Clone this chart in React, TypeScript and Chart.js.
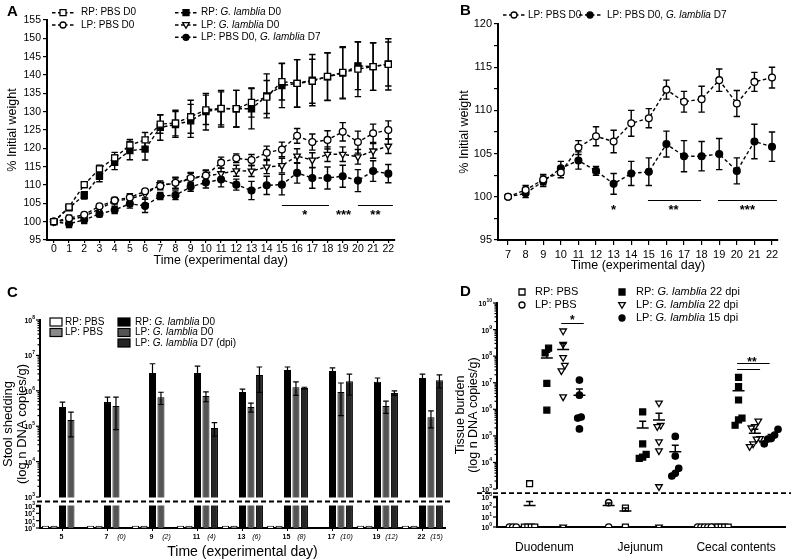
import React, { useEffect, useRef } from 'react';
import { Chart, registerables } from 'chart.js';

Chart.register(...registerables);

const FF = '"Liberation Sans", Arial, Helvetica, sans-serif';
const K = '#000';
Chart.defaults.font.family = FF;
Chart.defaults.color = K;

/* ---------------- Panel A: % initial weight, all groups ---------------- */
const daysA = [0, 1, 2, 3, 4, 5, 6, 7, 8, 9, 10, 11, 12, 13, 14, 15, 16, 17, 18, 19, 20, 21, 22];
const yTicksA = [95, 100, 105, 110, 115, 120, 125, 130, 135, 140, 145, 150, 155];
const rpPbsA = [100, 104, 110.1, 114.4, 117.4, 120.9, 122.3, 126.6, 126.9, 128.6, 130.5, 130.9, 130.8, 132.5, 134, 138.2, 137.7, 138.3, 139.6, 140.7, 141.6, 142.3, 142.9];
const rpPbsAErr = [0, 0.5, 0.8, 1, 1.5, 1.5, 2, 2.5, 3.5, 4.5, 4, 4.5, 5, 4, 4.5, 5, 6.5, 6, 6.5, 7, 7.5, 6.5, 7];
const lpPbsA = [100, 100.95, 101.9, 104.2, 105.8, 106.6, 108.3, 109.7, 110.6, 111.9, 112.6, 116.1, 117.3, 116.8, 118.8, 119.7, 123.4, 121.7, 122.3, 124.5, 121.7, 124.1, 125];
const lpPbsAErr = [0, 0.8, 0.5, 0.5, 0.8, 1, 0.5, 1, 1.5, 1.5, 1.5, 1.5, 1.2, 1.5, 1.8, 2, 2, 2.2, 2.5, 2.5, 3, 2.5, 2.5];
const rpGlA = [100, 103.8, 107.2, 112.4, 116.2, 119.4, 119.8, 125.7, 126.5, 127.5, 130, 130.8, 130.8, 130.8, 134.3, 137.1, 137.7, 138.6, 139.5, 140.5, 142.5, 142.3, 143];
const rpGlAErr = [0, 0.5, 1, 1.5, 2, 2.5, 3, 3.5, 3.5, 4.5, 5, 5, 5, 5.5, 6, 6, 6.5, 7, 6.5, 7, 6.5, 6.5, 6];
const lpGlA = [100, 100.5, 101.4, 103.5, 105.6, 106.2, 107.5, 110.1, 110.4, 111.7, 112.4, 113.1, 113.9, 113.8, 114.9, 115.3, 117.9, 116.8, 118.4, 118.4, 117.7, 119.3, 120.6];
const lpGlAErr = [0, 0.8, 0.8, 0.8, 0.8, 1, 1, 1, 1.5, 1.5, 1.5, 1.5, 1.5, 1.5, 1.8, 2, 2, 2, 2, 2, 2, 2, 2];
const lpPbsGlA = [100, 99.4, 100.5, 102.1, 103.2, 104.9, 104.3, 107, 107.2, 109.5, 110.7, 111.5, 110.1, 108.5, 109.9, 110.1, 113.3, 111.9, 111.9, 112.4, 111.2, 113.8, 113.1];
const lpPbsGlAErr = [0, 1, 1, 0.8, 1, 1.2, 1.8, 1, 1.2, 1.2, 1.5, 2, 1.5, 2.5, 2.5, 2.8, 2.8, 2.8, 3, 3, 3, 2.8, 2.5];
const sigLinesA = [[15, 18.1, 104.6], [20, 22.3, 104.6]];
const sigStarsA: any[] = [[16.5, 102.9, '*'], [19.05, 102.9, '***'], [21.15, 102.9, '**']];

/* ---------------- Panel B: % initial weight from day 7 ---------------- */
const daysB = [7, 8, 9, 10, 11, 12, 13, 14, 15, 16, 17, 18, 19, 20, 21, 22];
const yTicksB = [95, 97.5, 100, 102.5, 105, 107.5, 110, 112.5, 115, 117.5, 120];
const lpPbsB = [100, 100.8, 102.0, 102.8, 105.7, 107.0, 106.4, 108.5, 109.1, 112.4, 111.0, 111.3, 113.5, 110.8, 113.3, 113.8];
const lpPbsBErr = [0, 0.5, 0.6, 0.6, 0.8, 1.1, 1.3, 1.5, 1.1, 1.1, 1.2, 1.5, 1.3, 1.5, 1.1, 1.2];
const lpPbsGlB = [100, 100.4, 101.8, 103.3, 104.2, 103.0, 101.5, 102.7, 102.9, 106.1, 104.7, 104.7, 104.95, 103.0, 106.4, 105.8];
const lpPbsGlBErr = [0, 0.5, 0.6, 0.8, 1.0, 0.5, 1.2, 1.4, 1.6, 1.5, 1.8, 1.7, 1.8, 1.5, 2.0, 1.7];
const sigLinesB = [[14.95, 17.97, 99.6], [18.93, 22.28, 99.6]];
const sigStarsB: any[] = [[13, 98.9, '*'], [16.4, 98.9, '**'], [20.6, 98.9, '***']];

/* ---------------- Panel C: stool shedding (DNA copies/g) ---------------- */
const daysC = ['5', '7', '9', '11', '13', '15', '17', '19', '22'];
const dpiC = ['', '(0)', '(2)', '(4)', '(6)', '(8)', '(10)', '(12)', '(15)'];
const rpPbsC = [2, 2, 2, 2, 2, 2, null, 2, 2];
const lpPbsC = [2, 2, 2, 2, 2, 2, null, 2, 2];
const rpGlC = [3.5e5, 4.8e5, 3.2e6, 3.2e6, 9.3e5, 3.9e6, 3.6e6, 1.8e6, 2.3e6];
const rpGlCSem = [1.3e5, 1.8e5, 2.6e6, 1.8e6, 1.9e5, 8e5, 8.5e5, 5e5, 6.5e5];
const lpGlC = [1.5e5, 3.7e5, 6.6e5, 7.1e5, 3.5e5, 1.26e6, 9.3e5, 3.7e5, 1.8e5];
const lpGlCSem = [1.0e5, 2.9e5, 2.5e5, 2.2e5, 1.0e5, 5.2e5, 7.3e5, 1.4e5, 0.9e5];
const lpGlD7C = [null, null, null, 8.9e4, 2.8e6, 1.2e6, 1.86e6, 8.7e5, 2.0e6];
const lpGlD7CSem = [null, null, null, 3.7e4, 1.9e6, 6e4, 1.1e6, 1.3e5, 8e5];

/* ---------------- Panel D: tissue burden (log10 DNA copies/g) ---------------- */
const tissues = ['Duodenum', 'Jejunum', 'Cecal contents'];
const lpPbsD = [[0, 0, 0], [2.43, 0], [0, 0, 0, 0, 0]];
const rpPbsD = [[3.2, 0, 0, 0, 0], [1.9, 0], [0, 0, 0, 0, 0]];
const rpGl22D = [[8.3, 8.12, 6.98, 5.97], [5.9, 4.7, 4.3, 4.2, 4.15], [7.2, 6.85, 6.35, 5.67, 5.6, 5.4]];
const lpGl22D = [[8.95, 8.45, 7.95, 7.66, 7.45, 6.47, 0], [6.24, 5.4, 5.35, 4.78, 4.44, 3.09, 0], [5.56, 5.35, 5.3, 4.9, 4.88, 4.7, 4.6]];
const lpGl15D = [[7.1, 6.53, 5.71, 5.67, 5.26], [4.98, 4.24, 3.78, 3.59, 3.49], [5.25, 5.03, 4.9, 4.88, 4.7]];
const lpPbsDMean = [null, 2.15, null];
const lpPbsDCap = [null, 2.4, null];
const rpPbsDMean = [2.15, 1.6, null];
const rpPbsDCap = [2.55, 1.9, null];
const rpGl22DMean = [7.93, 5.3, 6.7];
const rpGl22DCap = [8.15, 5.55, 6.95];
const lpGl22DMean = [8.25, 5.6, 5.1];
const lpGl22DCap = [8.48, 5.85, 5.25];
const lpGl15DMean = [6.53, 4.4, 4.95];
const lpGl15DCap = [6.76, 4.65, 5.05];
const sigLinesD = [[0.175, 0.41, 9.24], [2.01, 2.35, 7.74], [2.01, 2.25, 7.51]];
const sigStarsD: any[] = [[0.29, 9.47, '*'], [2.165, 7.88, '**']];

/* ---------- broken log axes (value -> linear chart units) ---------- */
const tLowC = (l: number) => (l * 22) / 3;
const tUpC = (l: number) => 31 + (l - 3) * 35.4;
const tC = (l: number) => (l <= 3 ? tLowC(l) : tUpC(l));
const tLowD = (l: number) => l * 10;
const tUpD = (l: number) => 38 + (l - 3) * 26.6;
const tD = (l: number) => (l <= 3 ? tLowD(l) : tUpD(l));

/* ---------------- drawing helpers ---------------- */
function richText(ctx: any, x: number, y: number, parts: any[], size: number) {
  ctx.save();
  ctx.textBaseline = 'middle';
  ctx.textAlign = 'left';
  ctx.fillStyle = K;
  let cx = x;
  for (const [t, it] of parts) {
    ctx.font = `${it ? 'italic ' : ''}${size}px ${FF}`;
    ctx.fillText(t, cx, y);
    cx += ctx.measureText(t).width;
  }
  ctx.restore();
}

function drawMarker(ctx: any, shape: string, x: number, y: number, r: number, filled: boolean) {
  ctx.save();
  ctx.setLineDash([]);
  ctx.lineWidth = 1.3;
  ctx.strokeStyle = K;
  ctx.fillStyle = filled ? K : '#fff';
  ctx.beginPath();
  if (shape === 'rect') ctx.rect(x - r, y - r, 2 * r, 2 * r);
  else if (shape === 'circle') ctx.arc(x, y, r, 0, Math.PI * 2);
  else {
    ctx.moveTo(x - r * 1.1, y - r * 0.8);
    ctx.lineTo(x + r * 1.1, y - r * 0.8);
    ctx.lineTo(x, y + r * 1.1);
    ctx.closePath();
  }
  ctx.fill();
  ctx.stroke();
  ctx.restore();
}

function lineEntry(ctx: any, x0: number, y: number, shape: string, filled: boolean, parts: any[], size: number, gap: number) {
  ctx.save();
  ctx.strokeStyle = K;
  ctx.lineWidth = 1.4;
  ctx.setLineDash([3.5, 2.5]);
  ctx.beginPath();
  ctx.moveTo(x0, y);
  ctx.lineTo(x0 + 22, y);
  ctx.stroke();
  ctx.restore();
  drawMarker(ctx, shape, x0 + 11, y, 3, filled);
  richText(ctx, x0 + gap, y, parts, size);
}

function panelLetter(ctx: any, s: string, x: number, y: number) {
  ctx.save();
  ctx.font = `bold 15px ${FF}`;
  ctx.fillStyle = K;
  ctx.textAlign = 'left';
  ctx.textBaseline = 'middle';
  ctx.fillText(s, x, y);
  ctx.restore();
}

function powLabel(ctx: any, xr: number, y: number, e: number, size: number) {
  const sup = String(e);
  const ss = size * 0.72;
  ctx.font = `bold ${ss}px ${FF}`;
  const ws = ctx.measureText(sup).width;
  ctx.font = `bold ${size}px ${FF}`;
  const wb = ctx.measureText('10').width;
  ctx.textAlign = 'left';
  ctx.textBaseline = 'middle';
  ctx.fillText('10', xr - ws - wb, y + 1);
  ctx.font = `bold ${ss}px ${FF}`;
  ctx.fillText(sup, xr - ws, y - size * 0.35);
}

function spread(ts: number[], step: number) {
  const idx = ts.map((_, i) => i).sort((a, b) => ts[a] - ts[b]);
  const off = ts.map(() => 0);
  let i = 0;
  while (i < idx.length) {
    let j = i;
    while (j + 1 < idx.length && ts[idx[j + 1]] - ts[idx[j]] < 6) j++;
    const n = j - i + 1;
    for (let k = 0; k < n; k++) off[idx[i + k]] = (k - (n - 1) / 2) * step;
    i = j + 1;
  }
  return off;
}

/* ---------------- plugins ---------------- */
const errBars = {
  id: 'errBars',
  beforeDatasetsDraw(chart: any) {
    const { ctx } = chart;
    const ys = chart.scales.y;
    chart.data.datasets.forEach((ds: any, i: number) => {
      if (!ds.errs) return;
      const meta = chart.getDatasetMeta(i);
      ctx.save();
      ctx.strokeStyle = K;
      ctx.lineWidth = 1.4;
      ctx.setLineDash([]);
      meta.data.forEach((el: any, j: number) => {
        const e = ds.errs[j];
        if (!e) return;
        const v = ds.data[j].y;
        const y1 = ys.getPixelForValue(v + e);
        const y2 = ys.getPixelForValue(v - e);
        const x = el.x;
        const c = 3.2;
        ctx.beginPath();
        ctx.moveTo(x, y1);
        ctx.lineTo(x, y2);
        ctx.moveTo(x - c, y1);
        ctx.lineTo(x + c, y1);
        ctx.moveTo(x - c, y2);
        ctx.lineTo(x + c, y2);
        ctx.stroke();
      });
      ctx.restore();
    });
  },
};

function sigPlugin(lines: number[][], stars: any[], size: number, fy: (v: number) => number) {
  return {
    id: 'sig',
    afterDatasetsDraw(chart: any) {
      const { ctx } = chart;
      const xs = chart.scales.x;
      const ys = chart.scales.y;
      ctx.save();
      ctx.strokeStyle = K;
      ctx.lineWidth = 1;
      ctx.setLineDash([]);
      lines.forEach(([a, b, v]) => {
        const y = Math.round(ys.getPixelForValue(fy(v))) + 0.5;
        ctx.beginPath();
        ctx.moveTo(xs.getPixelForValue(a), y);
        ctx.lineTo(xs.getPixelForValue(b), y);
        ctx.stroke();
      });
      ctx.fillStyle = K;
      ctx.font = `bold ${size}px ${FF}`;
      ctx.textAlign = 'center';
      ctx.textBaseline = 'middle';
      stars.forEach(([a, v, s]) => ctx.fillText(s, xs.getPixelForValue(a), ys.getPixelForValue(fy(v)) + size * 0.3));
      ctx.restore();
    },
  };
}

function deco(fn: (ctx: any, chart: any) => void) {
  return {
    id: 'deco',
    afterDraw(chart: any) {
      fn(chart.ctx, chart);
    },
  };
}

function brokenAxis(o: any) {
  return {
    id: 'brokenAxis',
    afterDatasetsDraw(chart: any) {
      const { ctx, chartArea } = chart;
      const ys = chart.scales.y;
      const x0 = chartArea.left;
      const pl = (l: number) => ys.getPixelForValue(o.tLow(l));
      const pu = (l: number) => ys.getPixelForValue(o.tUp(l));
      ctx.save();
      if (o.clearGap) {
        ctx.fillStyle = '#fff';
        ctx.fillRect(x0 + 1, pu(3) + 0.5, chartArea.right - x0, pl(3) - pu(3) - 1);
      }
      ctx.strokeStyle = K;
      ctx.fillStyle = K;
      ctx.setLineDash([]);
      ctx.lineWidth = 2;
      ctx.beginPath();
      ctx.moveTo(x0, pu(3));
      ctx.lineTo(x0, pu(o.upMax) - 1);
      ctx.moveTo(x0, pl(0) + 1);
      ctx.lineTo(x0, pl(3));
      ctx.stroke();
      ctx.lineWidth = 1.2;
      const tick = (y: number, len: number) => {
        ctx.beginPath();
        ctx.moveTo(x0 - len, y);
        ctx.lineTo(x0, y);
        ctx.stroke();
      };
      for (let d = 3; d <= o.upMax; d++) {
        tick(pu(d), 4);
        powLabel(ctx, x0 - 5, pu(d), d, o.size);
        if (d < o.upMax) for (let k = 2; k <= 9; k++) tick(pu(d + Math.log10(k)), 2.5);
      }
      for (let d = 0; d <= 3; d++) {
        tick(pl(d), 4);
        powLabel(ctx, x0 - 5, pl(d), d, o.size);
      }
      ctx.lineWidth = 2.5;
      ctx.beginPath();
      ctx.moveTo(x0 - 4, pl(3));
      ctx.lineTo(x0 + 1, pl(3));
      ctx.stroke();
      const yb = (pl(3) + pu(3)) / 2;
      ctx.lineWidth = 1.8;
      ctx.setLineDash([5, 3]);
      ctx.beginPath();
      ctx.moveTo(o.dashX0, yb);
      ctx.lineTo(o.dashX1, yb);
      ctx.stroke();
      ctx.restore();
    },
  };
}

const whiskers = {
  id: 'whiskers',
  afterDatasetsDraw(chart: any) {
    const { ctx } = chart;
    const ys = chart.scales.y;
    chart.data.datasets.forEach((ds: any, i: number) => {
      if (!ds.whisk) return;
      const meta = chart.getDatasetMeta(i);
      ctx.save();
      ctx.strokeStyle = K;
      ctx.lineWidth = 1.2;
      meta.data.forEach((el: any, j: number) => {
        const w = ds.whisk[j];
        if (!w) return;
        const x = el.x;
        const c = 2.8;
        const yv = ys.getPixelForValue(ds.data[j]);
        const yh = ys.getPixelForValue(w[0]);
        ctx.beginPath();
        ctx.moveTo(x, yv);
        ctx.lineTo(x, yh);
        ctx.moveTo(x - c, yh);
        ctx.lineTo(x + c, yh);
        if (w[1] != null) {
          const yl = ys.getPixelForValue(w[1]);
          ctx.moveTo(x, yv);
          ctx.lineTo(x, yl);
          ctx.moveTo(x - c, yl);
          ctx.lineTo(x + c, yl);
        }
        ctx.stroke();
      });
      ctx.restore();
    });
  },
};

const meansD = {
  id: 'meansD',
  afterDatasetsDraw(chart: any) {
    const { ctx } = chart;
    const xs = chart.scales.x;
    const ys = chart.scales.y;
    ctx.save();
    ctx.strokeStyle = K;
    ctx.lineWidth = 1.5;
    chart.data.datasets.forEach((ds: any) => {
      if (!ds.means) return;
      ds.means.forEach((m: any, g: number) => {
        if (m == null) return;
        const x = xs.getPixelForValue(g + ds.off);
        const ym = ys.getPixelForValue(tD(m));
        const yc = ys.getPixelForValue(tD(ds.caps[g]));
        ctx.beginPath();
        ctx.moveTo(x - 6, ym);
        ctx.lineTo(x + 6, ym);
        ctx.moveTo(x, ym);
        ctx.lineTo(x, yc);
        ctx.moveTo(x - 3.5, yc);
        ctx.lineTo(x + 3.5, yc);
        ctx.stroke();
      });
    });
    ctx.restore();
  },
};

/* ---------------- scales ---------------- */
function xLin(min: number, max: number, ticks: number[], h: number, fs: number, tl: number, pad: number, tpb: number) {
  return {
    type: 'linear',
    min,
    max,
    afterBuildTicks: (s: any) => {
      s.ticks = ticks.map((v) => ({ value: v }));
    },
    afterFit: (s: any) => {
      s.height = h;
    },
    ticks: { font: { family: FF, size: fs }, color: K, padding: pad, maxRotation: 0, minRotation: 0, autoSkip: false },
    grid: { drawOnChartArea: false, color: K, tickLength: tl, lineWidth: 1.2 },
    border: { color: K, width: 2 },
    title: { display: true, text: 'Time (experimental day)', font: { family: FF, size: 12.5 }, color: K, padding: { top: 0, bottom: tpb } },
  };
}

function yLin(min: number, max: number, ticks: number[], w: number, fs: number, tpt: number, cb?: any) {
  return {
    type: 'linear',
    min,
    max,
    afterBuildTicks: (s: any) => {
      s.ticks = ticks.map((v) => ({ value: v }));
    },
    afterFit: (s: any) => {
      s.width = w;
    },
    ticks: { font: { family: FF, size: fs }, color: K, padding: 2, autoSkip: false, ...(cb ? { callback: cb } : {}) },
    grid: { drawOnChartArea: false, color: K, tickLength: 4, lineWidth: 1.2 },
    border: { color: K, width: 2 },
    title: { display: true, text: '% Initial weight', font: { family: FF, size: 12.5 }, color: K, padding: { top: tpt, bottom: 0 } },
  };
}

function lineDs(label: string, xs: number[], ys: number[], errs: number[], shape: string, filled: boolean) {
  return {
    label,
    data: xs.map((x, i) => ({ x, y: ys[i] })),
    errs,
    borderColor: K,
    borderWidth: 1.4,
    borderDash: [3.5, 2.5],
    fill: false,
    tension: 0,
    pointStyle: shape === 'tri' ? 'triangle' : shape,
    pointRotation: shape === 'tri' ? 180 : 0,
    pointRadius: shape === 'rect' ? 4.3 : shape === 'tri' ? 3.8 : 3.4,
    pointBorderWidth: 1.3,
    pointBorderColor: K,
    pointBackgroundColor: filled ? K : '#fff',
  };
}

const baseOpts = (padding: any) => ({
  responsive: false,
  animation: false,
  events: [],
  layout: { padding },
  plugins: { legend: { display: false }, tooltip: { enabled: false } },
});

/* ---------------- charts ---------------- */
function makeA(): any {
  return {
    type: 'line',
    data: {
      datasets: [
        lineDs('RP: PBS D0', daysA, rpPbsA, rpPbsAErr, 'rect', false),
        lineDs('LP: PBS D0', daysA, lpPbsA, lpPbsAErr, 'circle', false),
        lineDs('RP: G. lamblia D0', daysA, rpGlA, rpGlAErr, 'rect', true),
        lineDs('LP: G. lamblia D0', daysA, lpGlA, lpGlAErr, 'tri', false),
        lineDs('LP: PBS D0, G. lamblia D7', daysA, lpPbsGlA, lpPbsGlAErr, 'circle', true),
      ],
    },
    options: {
      ...baseOpts({ left: 0, top: 20, right: 2, bottom: 0 }),
      scales: {
        x: xLin(-0.45, 22.4, daysA, 31, 10.5, 3, 0, 3),
        y: yLin(95, 155, yTicksA, 47, 10.5, 5.5),
      },
    },
    plugins: [
      errBars,
      sigPlugin(sigLinesA, sigStarsA, 13, (v) => v),
      deco((ctx) => {
        const fs = 10;
        lineEntry(ctx, 52, 12.7, 'rect', false, [['RP: PBS D0', false]], fs, 29);
        lineEntry(ctx, 52, 25, 'circle', false, [['LP: PBS D0', false]], fs, 29);
        lineEntry(ctx, 175, 12.7, 'rect', true, [['RP: ', false], ['G. lamblia', true], [' D0', false]], fs, 26);
        lineEntry(ctx, 175, 25, 'tri', false, [['LP: ', false], ['G. lamblia', true], [' D0', false]], fs, 26);
        lineEntry(ctx, 175, 37.3, 'circle', true, [['LP: PBS D0, ', false], ['G. lamblia', true], [' D7', false]], fs, 26);
        panelLetter(ctx, 'A', 7, 12);
      }),
    ],
  };
}

function makeB(): any {
  return {
    type: 'line',
    data: {
      datasets: [
        lineDs('LP: PBS D0', daysB, lpPbsB, lpPbsBErr, 'circle', false),
        lineDs('LP: PBS D0, G. lamblia D7', daysB, lpPbsGlB, lpPbsGlBErr, 'circle', true),
      ],
    },
    options: {
      ...baseOpts({ left: 55, top: 24, right: 13, bottom: 0 }),
      scales: {
        x: xLin(6.43, 22.34, daysB, 36, 11, 5, 3, 2.5),
        y: yLin(95, 120, yTicksB, 43, 11, 2.5, (v: number) => (v % 5 === 0 ? String(v) : '')),
      },
    },
    plugins: [
      errBars,
      sigPlugin(sigLinesB, sigStarsB, 13, (v) => v),
      deco((ctx) => {
        lineEntry(ctx, 103, 15, 'circle', false, [['LP: PBS D0', false]], 10, 25);
        lineEntry(ctx, 179, 15, 'circle', true, [['LP: PBS D0, ', false], ['G. lamblia', true], [' D7', false]], 10, 28);
        panelLetter(ctx, 'B', 60, 11);
      }),
    ],
  };
}

function makeC(): any {
  const tv = (v: any) => (v == null ? null : tC(Math.log10(v)));
  const barDs = (label: string, vals: any[], sems: any[] | null, fill: string) => ({
    label,
    data: vals.map(tv),
    whisk: sems
      ? vals.map((v, i) => (v == null || sems[i] == null ? null : [tv(v + sems[i]), v - sems[i] > 0 ? tv(v - sems[i]) : null]))
      : null,
    backgroundColor: fill,
    borderColor: K,
    borderWidth: 1,
    categoryPercentage: 0.94,
    barPercentage: 0.83,
  });
  return {
    type: 'bar',
    data: {
      labels: daysC,
      datasets: [
        barDs('RP: PBS', rpPbsC, null, '#fff'),
        barDs('LP: PBS', lpPbsC, null, '#8a8a8a'),
        barDs('RP: G. lamblia D0', rpGlC, rpGlCSem, '#000'),
        barDs('LP: G. lamblia D0', lpGlC, lpGlCSem, '#555'),
        barDs('LP: G. lamblia D7 (dpi)', lpGlD7C, lpGlD7CSem, '#262626'),
      ],
    },
    options: {
      ...baseOpts({ left: 0, top: 40, right: 5, bottom: 0 }),
      scales: {
        x: {
          type: 'category',
          offset: true,
          afterFit: (s: any) => {
            s.height = 33;
          },
          ticks: { display: false },
          grid: { drawOnChartArea: false, offset: false, color: K, tickLength: 3, lineWidth: 1 },
          border: { color: K, width: 2 },
          title: { display: true, text: 'Time (experimental day)', font: { family: FF, size: 14 }, color: K, padding: { top: 0, bottom: 0 } },
        },
        y: {
          type: 'linear',
          min: 0,
          max: tUpC(8),
          afterFit: (s: any) => {
            s.width = 40;
          },
          ticks: { display: false },
          grid: { display: false },
          border: { display: false },
          title: {
            display: true,
            text: ['Stool shedding', '(log n DNA copies/g)'],
            font: { family: FF, size: 13, lineHeight: 1.1 },
            color: K,
            padding: { top: 1, bottom: 0 },
          },
        },
      },
    },
    plugins: [
      whiskers,
      brokenAxis({ tLow: tLowC, tUp: tUpC, upMax: 8, size: 7, dashX0: 37, dashX1: 450, clearGap: true }),
      deco((ctx, chart) => {
        const xs = chart.scales.x;
        const y = chart.chartArea.bottom + 9;
        ctx.save();
        ctx.fillStyle = K;
        ctx.textAlign = 'center';
        ctx.textBaseline = 'middle';
        daysC.forEach((d, i) => {
          const x = xs.getPixelForValue(i);
          ctx.font = `bold 7px ${FF}`;
          ctx.fillText(d, x - 1, y);
          if (dpiC[i]) {
            ctx.font = `italic 7px ${FF}`;
            ctx.fillText(dpiC[i], x + 14, y);
          }
        });
        ctx.restore();
        const box = (x: number, yy: number, fill: string) => {
          ctx.save();
          ctx.fillStyle = fill;
          ctx.fillRect(x, yy - 4, 12, 8);
          ctx.strokeStyle = K;
          ctx.lineWidth = 1.2;
          ctx.strokeRect(x, yy - 4, 12, 8);
          ctx.restore();
        };
        const fs = 10;
        box(50, 42, '#fff');
        richText(ctx, 65, 42, [['RP: PBS', false]], fs);
        box(50, 52.5, '#8a8a8a');
        richText(ctx, 65, 52.5, [['LP: PBS', false]], fs);
        box(118, 42, '#000');
        richText(ctx, 135, 42, [['RP: ', false], ['G. lamblia', true], [' D0', false]], fs);
        box(118, 52.5, '#555');
        richText(ctx, 135, 52.5, [['LP: ', false], ['G. lamblia', true], [' D0', false]], fs);
        box(118, 63, '#262626');
        richText(ctx, 135, 63, [['LP: ', false], ['G. lamblia', true], [' D7 (dpi)', false]], fs);
        panelLetter(ctx, 'C', 7, 13);
      }),
    ],
  };
}

function makeD(): any {
  const groups = [
    { label: 'LP: PBS', vals: lpPbsD, means: lpPbsDMean, caps: lpPbsDCap, shape: 'circle', filled: false },
    { label: 'RP: PBS', vals: rpPbsD, means: rpPbsDMean, caps: rpPbsDCap, shape: 'rect', filled: false },
    { label: 'RP: G. lamblia 22 dpi', vals: rpGl22D, means: rpGl22DMean, caps: rpGl22DCap, shape: 'rect', filled: true },
    { label: 'LP: G. lamblia 22 dpi', vals: lpGl22D, means: lpGl22DMean, caps: lpGl22DCap, shape: 'tri', filled: false },
    { label: 'LP: G. lamblia 15 dpi', vals: lpGl15D, means: lpGl15DMean, caps: lpGl15DCap, shape: 'circle', filled: true },
  ];
  const offD = [-0.33, -0.155, 0.025, 0.195, 0.365];
  const datasets = groups.map((g, k) => {
    const data: any[] = [];
    g.vals.forEach((arr, ti) => {
      const ts = arr.map(tD);
      const jit = spread(ts, 0.036);
      ts.forEach((t, i) => data.push({ x: ti + offD[k] + jit[i], y: t }));
    });
    return {
      label: g.label,
      data,
      off: offD[k],
      means: g.means,
      caps: g.caps,
      showLine: false,
      pointStyle: g.shape === 'tri' ? 'triangle' : g.shape,
      pointRotation: g.shape === 'tri' ? 180 : 0,
      pointRadius: g.shape === 'rect' ? 4.2 : g.shape === 'tri' ? 3.8 : 3.2,
      pointBorderWidth: 1.3,
      pointBorderColor: K,
      pointBackgroundColor: g.filled ? K : '#fff',
    };
  });
  return {
    type: 'scatter',
    data: { datasets },
    options: {
      ...baseOpts({ left: 50, top: 23, right: 2, bottom: 0 }),
      scales: {
        x: {
          type: 'linear',
          min: -0.495,
          max: 2.515,
          afterBuildTicks: (s: any) => {
            s.ticks = tissues.map((_, i) => ({ value: i }));
          },
          afterFit: (s: any) => {
            s.height = 33;
          },
          ticks: { callback: (v: number) => tissues[v] ?? '', font: { family: FF, size: 12 }, color: K, padding: 13, maxRotation: 0, autoSkip: false },
          grid: { drawOnChartArea: false, drawTicks: false },
          border: { color: K, width: 2 },
        },
        y: {
          type: 'linear',
          min: 0,
          max: tUpD(10),
          afterFit: (s: any) => {
            s.width = 47;
          },
          ticks: { display: false },
          grid: { display: false },
          border: { display: false },
          title: {
            display: true,
            text: ['Tissue burden', '(log n DNA copies/g)'],
            font: { family: FF, size: 12.5, lineHeight: 1.05 },
            color: K,
            padding: { top: 4, bottom: 0 },
          },
        },
      },
    },
    plugins: [
      brokenAxis({ tLow: tLowD, tUp: tUpD, upMax: 10, size: 7, dashX0: 77, dashX1: 391, clearGap: false }),
      meansD,
      sigPlugin(sigLinesD, sigStarsD, 12, tD),
      deco((ctx) => {
        const fs = 11;
        drawMarker(ctx, 'rect', 122, 12, 3, false);
        richText(ctx, 135, 12, [['RP: PBS', false]], fs);
        drawMarker(ctx, 'circle', 122, 25, 3, false);
        richText(ctx, 135, 25, [['LP: PBS', false]], fs);
        drawMarker(ctx, 'rect', 222, 12, 3, true);
        richText(ctx, 236, 12, [['RP: ', false], ['G. lamblia', true], [' 22 dpi', false]], fs);
        drawMarker(ctx, 'tri', 222, 25, 3, false);
        richText(ctx, 236, 25, [['LP: ', false], ['G. lamblia', true], [' 22 dpi', false]], fs);
        drawMarker(ctx, 'circle', 222, 38, 3, true);
        richText(ctx, 236, 38, [['LP: ', false], ['G. lamblia', true], [' 15 dpi', false]], fs);
        panelLetter(ctx, 'D', 60, 12);
      }),
    ],
  };
}

function ChartCanvas({ left, top, width, height, make }: any) {
  const ref = useRef<HTMLCanvasElement>(null);
  useEffect(() => {
    const chart = new Chart(ref.current as HTMLCanvasElement, make());
    return () => chart.destroy();
  }, []);
  return <canvas ref={ref} width={width} height={height} style={{ position: 'absolute', left, top, width, height }} />;
}

export default function App() {
  return (
    <div style={{ position: 'absolute', left: 0, top: 0, width: 791, height: 560, background: '#fff', overflow: 'hidden' }}>
      <ChartCanvas left={0} top={0} width={400} height={271} make={makeA} />
      <ChartCanvas left={400} top={0} width={391} height={276} make={makeB} />
      <ChartCanvas left={0} top={280} width={450} height={281} make={makeC} />
      <ChartCanvas left={400} top={280} width={391} height={280} make={makeD} />
    </div>
  );
}
